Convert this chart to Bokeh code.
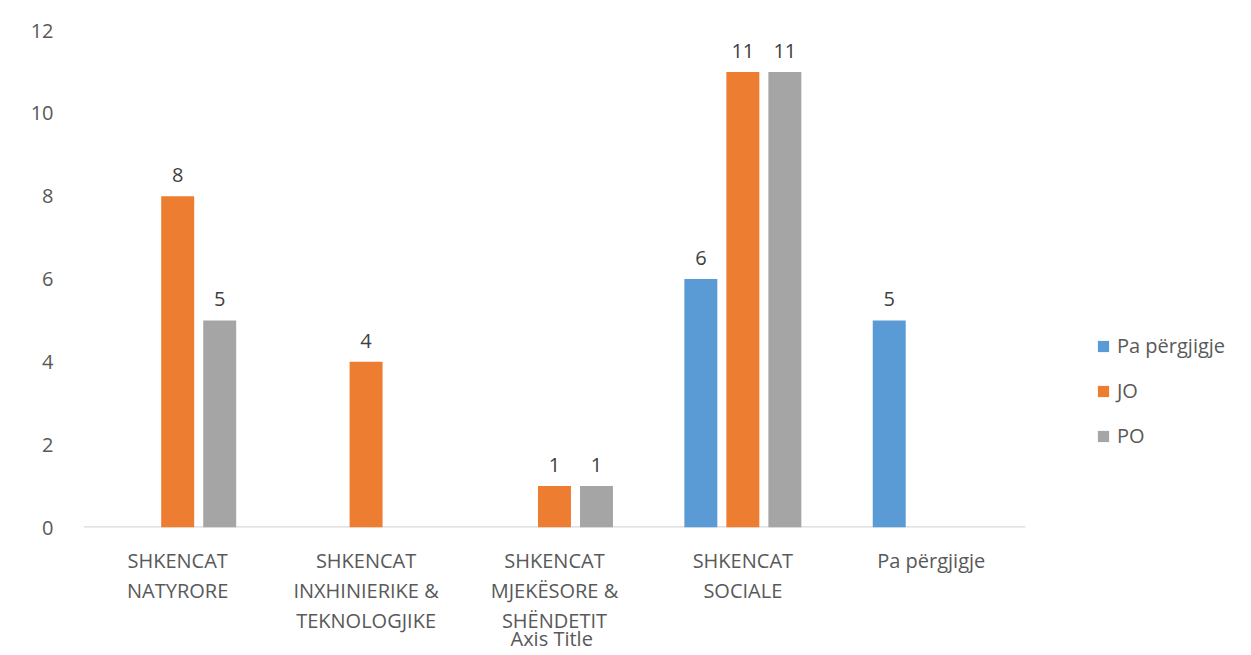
from bokeh.plotting import figure
from bokeh.models import ColumnDataSource, Legend, LegendItem, FixedTicker, Title
from bokeh.core.properties import value
from bokeh.embed import file_html
from bokeh.resources import INLINE
import math

categories = ["SHKENCAT\nNATYRORE",
              "SHKENCAT\nINXHINIERIKE &\nTEKNOLOGJIKE",
              "SHKENCAT\nMJEKËSORE &\nSHËNDETIT",
              "SHKENCAT\nSOCIALE",
              "Pa përgjigje"]
series_names = ["Pa përgjigje", "JO", "PO"]
pa_pergjigje = [None, None, None, 6, 5]
jo = [8, 4, 1, 11, None]
po = [5, None, 1, 11, None]
y_ticks = [0, 2, 4, 6, 8, 10, 12]
x_axis_title = "Axis Title"
colors = ["#5B9BD5", "#ED7D31", "#A5A5A5"]
offsets = [-0.223, 0.0, 0.223]

FONT = "Open Sans"
TXT = "#595959"

n = len(categories)
idx = list(range(n))

# extra room on the right of the frame holds the legend
p = figure(x_range=(-0.5, n - 0.5 + 1.2), y_range=(0, 12),
           width=1251, height=655, output_backend="svg", toolbar_location=None,
           min_border_left=83, min_border_top=30, min_border_right=0, min_border_bottom=128)
p.outline_line_color = None
p.xgrid.visible = False
p.ygrid.visible = False

# category baseline (x axis line) spanning only the categories
p.segment(x0=[-0.5], x1=[n - 0.5], y0=[0], y1=[0], line_color="#d9d9d9", line_width=2.5)

renderers = []
for name, vals, col, off in zip(series_names, [pa_pergjigje, jo, po], colors, offsets):
    xs = [i + off for i in idx]
    tops = [math.nan if v is None else v for v in vals]
    labels = ["" if v is None else str(v) for v in vals]
    src = ColumnDataSource(dict(x=xs, top=tops, lab=labels,
                                ly=[0 if v is None else v for v in vals]))
    r = p.vbar(x="x", top="top", width=0.175, source=src, fill_color=col, line_color=None)
    p.text(x="x", y="ly", text="lab", source=src,
           text_align="center", text_baseline="bottom", y_offset=-14,
           text_font=value(FONT), text_font_size="20px", text_color="#404040")
    renderers.append(r)

legend = Legend(items=[LegendItem(label=s, renderers=[r]) for s, r in zip(series_names, renderers)],
                location=(1013, 78), orientation="vertical",
                glyph_width=14, glyph_height=14, label_standoff=7, spacing=18,
                padding=0, margin=0, border_line_color=None, background_fill_alpha=0,
                label_text_font=FONT, label_text_font_size="20px", label_text_color=TXT)
p.add_layout(legend, "center")

p.yaxis.ticker = y_ticks
p.yaxis.axis_line_color = None
p.yaxis.major_tick_line_color = None
p.yaxis.minor_tick_line_color = None
p.yaxis.major_label_standoff = 24
p.yaxis.major_label_text_font = FONT
p.yaxis.major_label_text_font_size = "20px"
p.yaxis.major_label_text_color = TXT

p.xaxis.ticker = FixedTicker(ticks=idx)
p.xaxis.major_label_overrides = {i: c for i, c in zip(idx, categories)}
p.xaxis.axis_line_color = None
p.xaxis.major_tick_line_color = None
p.xaxis.minor_tick_line_color = None
p.xaxis.major_label_standoff = 13
p.xaxis.major_label_text_font = FONT
p.xaxis.major_label_text_font_size = "20px"
p.xaxis.major_label_text_color = TXT
p.xaxis.major_label_text_line_height = 1.12

# axis title centred under the category span (not under the legend room)
axis_title = Title(text=x_axis_title, align="left", offset=427, standoff=-27,
                   text_font=FONT, text_font_size="20px", text_font_style="normal",
                   text_color=TXT)
p.add_layout(axis_title, "below")

open("out.html", "w").write(file_html(p, INLINE))
